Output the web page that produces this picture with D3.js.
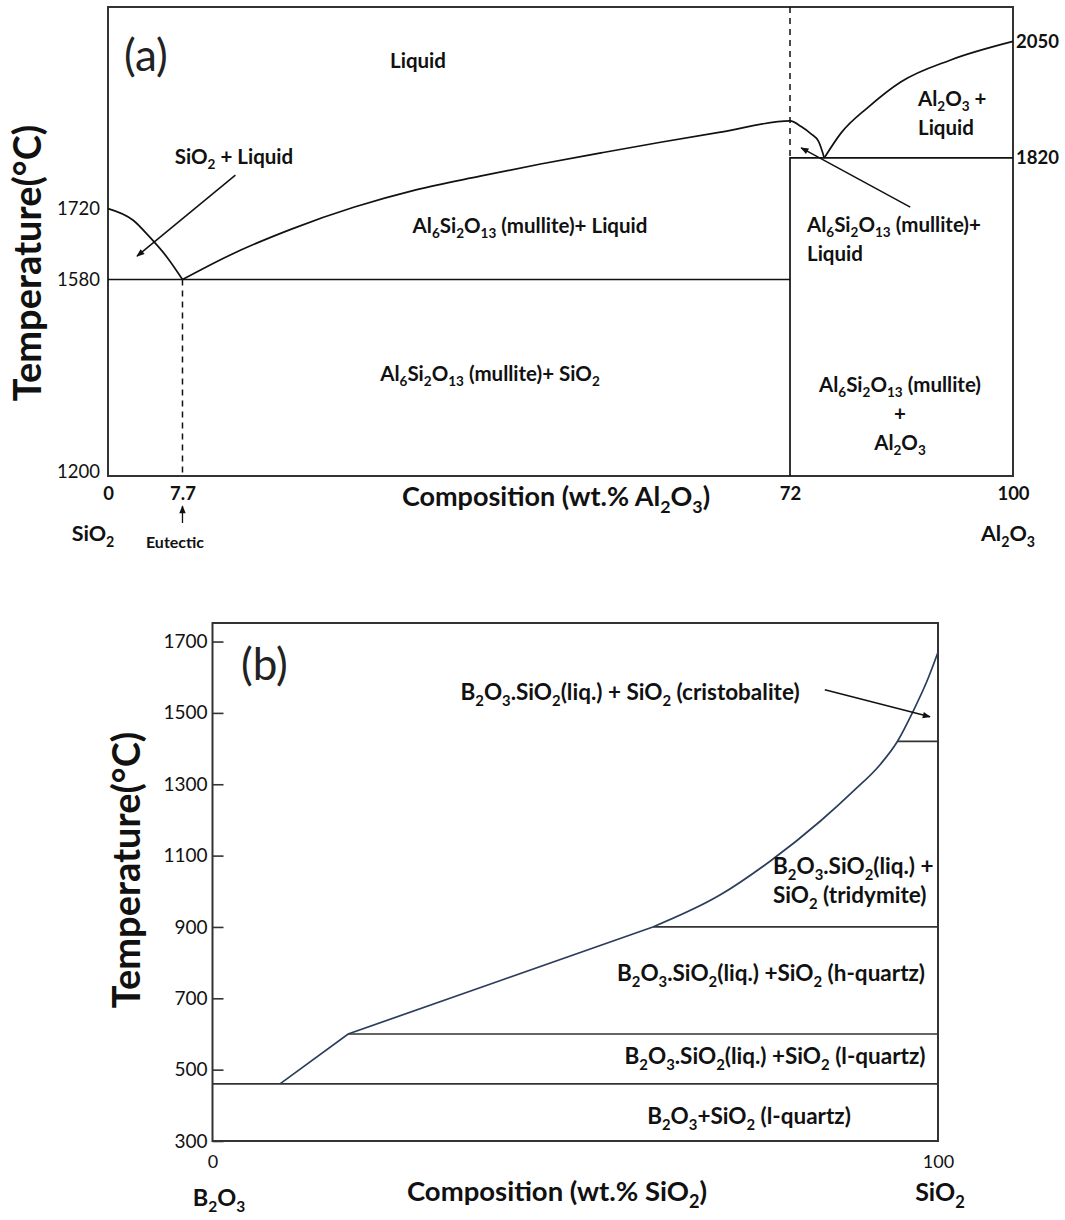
<!DOCTYPE html>
<html>
<head>
<meta charset="utf-8">
<script src="https://cdn.jsdelivr.net/npm/d3@7"></script>
<style>
  html, body { margin: 0; padding: 0; background: #fff; }
  svg { display: block; font-family: Lato, "Open Sans", sans-serif; }
</style>
</head>
<body>
<svg id="chart" width="1065" height="1220"></svg>
<script>
// ---------- (a) SiO2 – Al2O3 system ----------
const aCompTicks = [0, 7.7, 72, 100];
const aTempTicksLeft = [1200, 1580, 1720];
const aTempTicksRight = [1820, 2050];
// SiO2 liquidus, from the melting point of silica down to the eutectic
const sio2LiqComp = [0, 2.6, 4.3, 6.1, 7.7];
const sio2LiqTemp = [1720, 1697, 1664, 1624, 1580];
// mullite liquidus, over the incongruent maximum down to the peritectic
const mulliteLiqComp = [7.7, 12.7, 19.3, 25.9, 32.4, 39.2, 45.6, 52.0, 58.3, 64.7, 72, 73.4, 74.6, 75.6, 76.3];
const mulliteLiqTemp = [1580, 1628, 1680, 1723, 1757, 1784, 1808, 1830, 1851, 1871, 1893, 1882, 1868, 1852, 1820];
// Al2O3 liquidus, from the peritectic up to the melting point of alumina
const aluminaLiqComp = [76.3, 78.4, 81.8, 85.9, 92.1, 100];
const aluminaLiqTemp = [1820, 1869, 1920, 1970, 2013, 2050];
const eutecticComp = 7.7, eutecticTemp = 1580;
const mulliteComp = 72, peritecticTemp = 1820;

// ---------- (b) B2O3 – SiO2 system ----------
const bCompTicks = [0, 100];
const bTempTicks = [300, 500, 700, 900, 1100, 1300, 1500, 1700];
const silicaLiqComp = [9.3, 18.7, 39.7, 60.7, 70.0, 76.9, 83.8, 88.4, 92.1, 94.4, 96.6, 98.5, 100];
const silicaLiqTemp = [460, 600, 750, 900, 990, 1085, 1197, 1282, 1357, 1420, 1506, 1590, 1670];
const isothermTemps = [460, 600, 900, 1420];
const isothermFrom = [0, 18.7, 60.7, 94.4];

const svg = d3.select('#chart');
const INK = '#111', FRAME = '#333', CURVE_B = '#2c3d5c';

// arrow head
svg.append('defs').append('marker')
  .attr('id', 'head').attr('viewBox', '0 0 10 10')
  .attr('refX', 9).attr('refY', 5)
  .attr('markerUnits', 'userSpaceOnUse')
  .attr('markerWidth', 10).attr('markerHeight', 8)
  .attr('orient', 'auto')
  .append('path').attr('d', 'M0,1 L10,5 L0,9 Z').attr('fill', INK);

// text with chemical subscripts: "_13" renders 13 as a subscript
function rich(text, str) {
  const fs = +text.attr('font-size');
  let down = false;
  str.split(/(_\d+)/).filter(Boolean).forEach(part => {
    const sub = part[0] === '_';
    const t = text.append('tspan').text(sub ? part.slice(1) : part);
    if (sub) {
      t.attr('font-size', fs * 0.66);
      if (!down) t.attr('dy', fs * 0.26);
      down = true;
    } else if (down) {
      t.attr('dy', -fs * 0.26);
      down = false;
    }
  });
  return text;
}
function label(g, str, x, y, opts = {}) {
  const t = g.append('text')
    .attr('x', x).attr('y', y)
    .attr('font-size', opts.size || 20.5)
    .attr('font-weight', opts.weight || 700)
    .attr('fill', opts.fill || INK)
    .attr('text-anchor', opts.anchor || 'middle');
  if (opts.rotate) t.attr('transform', `rotate(${opts.rotate},${x},${y})`);
  return rich(t, str);
}

// ================= panel (a) =================
const A = { left: 108, right: 1013, top: 7, bottom: 476 };
const aW = A.right - A.left;
// the composition axis is schematic: piecewise linear between the labelled compositions
const xA = d3.scaleLinear()
  .domain([0, 7.7, 72, 100])
  .range([0, 0.0823, 0.7536, 1].map(f => A.left + f * aW));
const yA = d3.scaleLinear().domain([1192, 2118]).range([A.bottom, A.top]);

const ga = svg.append('g');
const lineA = d3.line().x(d => xA(d[0])).y(d => yA(d[1]));
const smoothA = d3.line().x(d => xA(d[0])).y(d => yA(d[1])).curve(d3.curveMonotoneX);
const zip = (a, b) => a.map((v, i) => [v, b[i]]);

// frame
ga.append('rect').attr('x', A.left).attr('y', A.top).attr('width', aW).attr('height', A.bottom - A.top)
  .attr('fill', 'none').attr('stroke', FRAME).attr('stroke-width', 2);

// phase boundaries
const solid = { stroke: INK, 'stroke-width': 1.7, fill: 'none' };
const apply = (sel, o) => { Object.entries(o).forEach(([k, v]) => sel.attr(k, v)); return sel; };

apply(ga.append('path').attr('d', smoothA(zip(sio2LiqComp, sio2LiqTemp))), solid);
apply(ga.append('path').attr('d', smoothA(zip(mulliteLiqComp, mulliteLiqTemp))), solid);
apply(ga.append('path').attr('d', smoothA(zip(aluminaLiqComp, aluminaLiqTemp))), solid);
// eutectic isotherm
apply(ga.append('path').attr('d', lineA([[0, eutecticTemp], [mulliteComp, eutecticTemp]])), solid);
// peritectic isotherm and mullite composition line
apply(ga.append('path').attr('d', lineA([[100, peritecticTemp], [mulliteComp, peritecticTemp], [mulliteComp, 1192]])), solid);
// dashed guides
const dashed = { stroke: INK, 'stroke-width': 1.5, fill: 'none', 'stroke-dasharray': '6,5' };
apply(ga.append('path').attr('d', lineA([[mulliteComp, 2118], [mulliteComp, peritecticTemp]])), dashed);
apply(ga.append('path').attr('d', lineA([[eutecticComp, eutecticTemp], [eutecticComp, 1192]])), dashed);

// annotation arrows
const arrow = (g, line, p, q) => g.append('path').attr('d', line([p, q]))
  .attr('stroke', INK).attr('stroke-width', 1.5).attr('fill', 'none').attr('marker-end', 'url(#head)');
arrow(ga, lineA, [13.3, 1786], [3.0, 1626]);
arrow(ga, lineA, [87.1, 1723], [73.4, 1840]);

// axes
const styleAxis = (g, size, weight) => {
  g.select('.domain').remove();
  g.selectAll('text').attr('font-size', size).attr('font-weight', weight)
    .attr('fill', INK).attr('font-family', 'Lato, "Open Sans", sans-serif');
};
ga.append('g').attr('transform', `translate(${A.left},0)`)
  .call(d3.axisLeft(yA).tickValues(aTempTicksLeft).tickSize(0).tickPadding(8).tickFormat(d3.format('d')))
  .call(g => styleAxis(g, 18.5, 400));
ga.append('g').attr('transform', `translate(${A.right},0)`)
  .call(d3.axisRight(yA).tickValues(aTempTicksRight).tickSize(0).tickPadding(3).tickFormat(d3.format('d')))
  .call(g => styleAxis(g, 18.5, 700));
ga.append('g').attr('transform', `translate(0,${A.bottom})`)
  .call(d3.axisBottom(xA).tickValues(aCompTicks).tickSize(0).tickPadding(11).tickFormat(d => String(d)))
  .call(g => styleAxis(g, 18.5, 700));

// region labels
label(ga, '(a)', 124, 71, { size: 44, weight: 400, anchor: 'start', fill: '#222' });
label(ga, 'Liquid', 418, 68);
label(ga, 'SiO_2 + Liquid', 234, 164);
label(ga, 'Al_6Si_2O_13 (mullite)+ Liquid', 530, 233);
label(ga, 'Al_6Si_2O_13 (mullite)+ SiO_2', 490, 381);
label(ga, 'Al_6Si_2O_13 (mullite)+', 807, 232, { anchor: 'start' });
label(ga, 'Liquid', 807, 261, { anchor: 'start' });
label(ga, 'Al_2O_3 +', 918, 106, { anchor: 'start' });
label(ga, 'Liquid', 918, 135, { anchor: 'start' });
label(ga, 'Al_6Si_2O_13 (mullite)', 900, 392);
label(ga, '+', 900, 421);
label(ga, 'Al_2O_3', 900, 450);

// axis titles and end members
label(ga, 'Composition (wt.% Al_2O_3)', 556, 506, { size: 27 });
label(ga, 'SiO_2', 93, 541, { size: 21.5 });
label(ga, 'Al_2O_3', 1008, 541, { size: 21.5 });
label(ga, 'Eutectic', 175, 548, { size: 16 });
ga.append('path').attr('d', `M${xA(eutecticComp)},523 L${xA(eutecticComp)},506`)
  .attr('stroke', INK).attr('stroke-width', 1.3).attr('marker-end', 'url(#head)');
label(ga, 'Temperature(°C)', 41, 263, { size: 38, rotate: -90 });

// ================= panel (b) =================
const B = { left: 212.5, right: 938, top: 623, bottom: 1141 };
const xB = d3.scaleLinear().domain([0, 100]).range([B.left, B.right]);
const yB = d3.scaleLinear().domain([300, 1752]).range([B.bottom, B.top]);
const gb = svg.append('g');
const lineB = d3.line().x(d => xB(d[0])).y(d => yB(d[1]));
const smoothB = d3.line().x(d => xB(d[0])).y(d => yB(d[1])).curve(d3.curveMonotoneX);

gb.append('rect').attr('x', B.left).attr('y', B.top).attr('width', B.right - B.left).attr('height', B.bottom - B.top)
  .attr('fill', 'none').attr('stroke', FRAME).attr('stroke-width', 2);

// isotherms
isothermTemps.forEach((t, i) => {
  gb.append('path').attr('d', lineB([[isothermFrom[i], t], [100, t]]))
    .attr('stroke', FRAME).attr('stroke-width', 1.7).attr('fill', 'none');
});
// liquidus: straight from the eutectic to 600 °C and on to 900 °C, then a smooth rise to pure SiO2
const liqB = zip(silicaLiqComp, silicaLiqTemp);
gb.append('path').attr('d', lineB(liqB.slice(0, 4)))
  .attr('stroke', CURVE_B).attr('stroke-width', 1.7).attr('fill', 'none');
gb.append('path').attr('d', smoothB(liqB.slice(3)))
  .attr('stroke', CURVE_B).attr('stroke-width', 1.7).attr('fill', 'none');

// axes
gb.append('g').attr('transform', `translate(${B.left},0)`)
  .call(d3.axisLeft(yB).tickValues(bTempTicks).tickSizeInner(-11).tickSizeOuter(0).tickPadding(5).tickFormat(d3.format('d')))
  .call(g => { styleAxis(g, 19, 400); g.selectAll('line').attr('stroke', FRAME).attr('stroke-width', 1.6); });
gb.append('g').attr('transform', `translate(0,${B.bottom})`)
  .call(d3.axisBottom(xB).tickValues(bCompTicks).tickSize(0).tickPadding(14).tickFormat(d3.format('d')))
  .call(g => styleAxis(g, 18, 400));

// arrow to the cristobalite field
arrow(gb, lineB, [84.4, 1565], [98.9, 1489]);

label(gb, '(b)', 241, 680, { size: 44, weight: 400, anchor: 'start', fill: '#222' });
const bSize = { size: 22.5 };
label(gb, 'B_2O_3.SiO_2(liq.) + SiO_2 (cristobalite)', 630, 700, bSize);
label(gb, 'B_2O_3.SiO_2(liq.) +', 773, 874, { size: 22.5, anchor: 'start' });
label(gb, 'SiO_2 (tridymite)', 773, 903, { size: 22.5, anchor: 'start' });
label(gb, 'B_2O_3.SiO_2(liq.) +SiO_2 (h-quartz)', 771, 981, bSize);
label(gb, 'B_2O_3.SiO_2(liq.) +SiO_2 (l-quartz)', 775, 1064, bSize);
label(gb, 'B_2O_3+SiO_2 (l-quartz)', 749, 1124, bSize);

label(gb, 'Composition (wt.% SiO_2)', 557, 1201, { size: 27.5 });
label(gb, 'B_2O_3', 219, 1206, { size: 23.5 });
label(gb, 'SiO_2', 940, 1201, { size: 25 });
label(gb, 'Temperature(°C)', 140, 870, { size: 38, rotate: -90 });
</script>
</body>
</html>
